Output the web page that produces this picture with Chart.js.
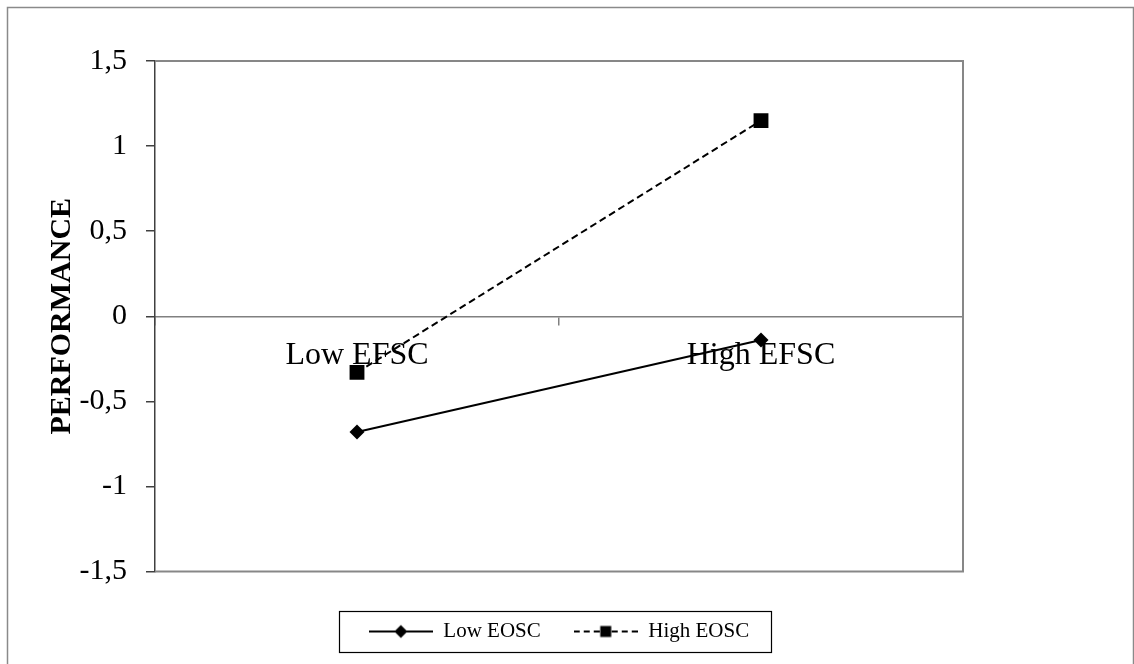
<!DOCTYPE html>
<html>
<head>
<meta charset="utf-8">
<script src="https://cdn.jsdelivr.net/npm/chart.js@4"></script>
<style>
html, body { margin: 0; padding: 0; background: #fff; }
#wrap { width: 1134px; height: 664px; position: relative; }
</style>
</head>
<body>
<div id="wrap"><canvas id="chart"></canvas></div>
<script>
var categories = ['Low EFSC', 'High EFSC'];
var lowEOSC = [-0.68, -0.14];
var highEOSC = [-0.33, 1.15];
var yTicks = [-1.5, -1, -0.5, 0, 0.5, 1, 1.5];

var serif = "'Liberation Serif', 'Times New Roman', serif";

// little line + marker pictures for the legend
function legendSymbol(dashed, marker) {
  var c = document.createElement('canvas');
  c.width = 64; c.height = 16;
  var g = c.getContext('2d');
  g.strokeStyle = '#000';
  g.lineWidth = 2;
  if (dashed) {
    g.setLineDash([6, 4]);
    g.beginPath(); g.moveTo(0, 8); g.lineTo(27, 8); g.stroke();
    g.beginPath(); g.moveTo(64, 8); g.lineTo(37, 8); g.stroke();
    g.setLineDash([]);
  } else {
    g.beginPath(); g.moveTo(0, 8); g.lineTo(64, 8); g.stroke();
  }
  g.fillStyle = '#000';
  if (marker === 'diamond') {
    g.beginPath(); g.moveTo(32, 1.5); g.lineTo(38.5, 8); g.lineTo(32, 14.5); g.lineTo(25.5, 8); g.closePath(); g.fill();
  } else {
    g.fillRect(26.5, 2.5, 11, 11);
  }
  return c;
}
var symbols = [legendSymbol(false, 'diamond'), legendSymbol(true, 'square')];

var framePlugin = {
  id: 'frames',
  beforeDraw: function(chart) {
    var ctx = chart.ctx;
    ctx.save();
    ctx.strokeStyle = '#8a8a8a';
    ctx.lineWidth = 1.5;
    ctx.strokeRect(7.5, 7.5, 1126, 700);
    ctx.restore();
  },
  beforeDatasetsDraw: function(chart) {
    var a = chart.chartArea, ctx = chart.ctx;
    ctx.save();
    ctx.strokeStyle = '#878787';
    ctx.lineWidth = 2;
    ctx.beginPath();
    ctx.moveTo(a.left, a.top); ctx.lineTo(a.right, a.top);
    ctx.lineTo(a.right, a.bottom); ctx.lineTo(a.left, a.bottom);
    ctx.stroke();
    ctx.restore();
  },
  afterDraw: function(chart) {
    var hb = chart.legend.legendHitBoxes;
    if (!hb || !hb.length) return;
    var last = hb[hb.length - 1];
    var cy = hb[0].top + hb[0].height / 2;
    var x1 = hb[0].left - 30, x2 = last.left + last.width + 22;
    var ctx = chart.ctx;
    ctx.save();
    ctx.strokeStyle = '#000';
    ctx.lineWidth = 1.2;
    ctx.strokeRect(Math.round(x1) + 0.5, Math.round(cy - 20.5) + 0.5, Math.round(x2 - x1), 41);
    ctx.restore();
  }
};

new Chart('chart', {
  type: 'line',
  data: {
    labels: categories,
    datasets: [{
      label: 'Low EOSC',
      data: lowEOSC,
      borderColor: '#000',
      backgroundColor: '#000',
      borderWidth: 2,
      pointStyle: 'rectRot',
      pointRadius: 7.5,
      pointBorderWidth: 0,
      fill: false,
      tension: 0
    }, {
      label: 'High EOSC',
      data: highEOSC,
      borderColor: '#000',
      backgroundColor: '#000',
      borderWidth: 2,
      borderDash: [7, 4],
      pointStyle: 'rect',
      pointRadius: 10.5,
      pointBorderWidth: 0,
      fill: false,
      tension: 0
    }]
  },
  options: {
    responsive: true,
    maintainAspectRatio: false,
    animation: false,
    layout: { padding: { left: 8, right: 171, top: 61, bottom: 12 } },
    scales: {
      x: {
        type: 'category',
        offset: true,
        position: { y: 0 },
        grid: { display: true, offset: true, drawOnChartArea: false, drawTicks: true, tickLength: 8, color: '#808080', lineWidth: 1.5 },
        border: { display: true, color: '#808080', width: 1.5 },
        ticks: { color: '#000', font: { family: serif, size: 32 }, padding: 12, maxRotation: 0, autoSkip: false }
      },
      y: {
        min: -1.5,
        max: 1.5,
        afterBuildTicks: function(s) { s.ticks = yTicks.map(function(v) { return { value: v }; }); },
        afterFit: function(s) { s.width = 147; },
        grid: { drawOnChartArea: false, drawTicks: true, tickLength: 9, color: '#404040', lineWidth: 1.5 },
        border: { display: true, color: '#404040', width: 1.5 },
        ticks: {
          color: '#000',
          font: { family: serif, size: 30 },
          padding: 19,
          callback: function(v) { return String(v).replace('.', ','); }
        },
        title: {
          display: true,
          text: 'PERFORMANCE',
          color: '#000',
          font: { family: serif, size: 30, weight: 'bold' },
          padding: { top: 36, bottom: 0 }
        }
      }
    },
    plugins: {
      legend: {
        position: 'bottom',
        fullSize: false,
        title: { display: true, text: '', font: { size: 10, lineHeight: 1 }, padding: { top: 6.5, bottom: 0 } },
        labels: {
          color: '#000',
          font: { family: serif, size: 21 },
          usePointStyle: true,
          pointStyleWidth: 64,
          padding: 33,
          generateLabels: function(chart) {
            var items = Chart.defaults.plugins.legend.labels.generateLabels(chart);
            items.forEach(function(it, i) { it.pointStyle = symbols[i]; });
            return items;
          }
        }
      },
      tooltip: { enabled: false }
    }
  },
  plugins: [framePlugin]
});
</script>
</body>
</html>
